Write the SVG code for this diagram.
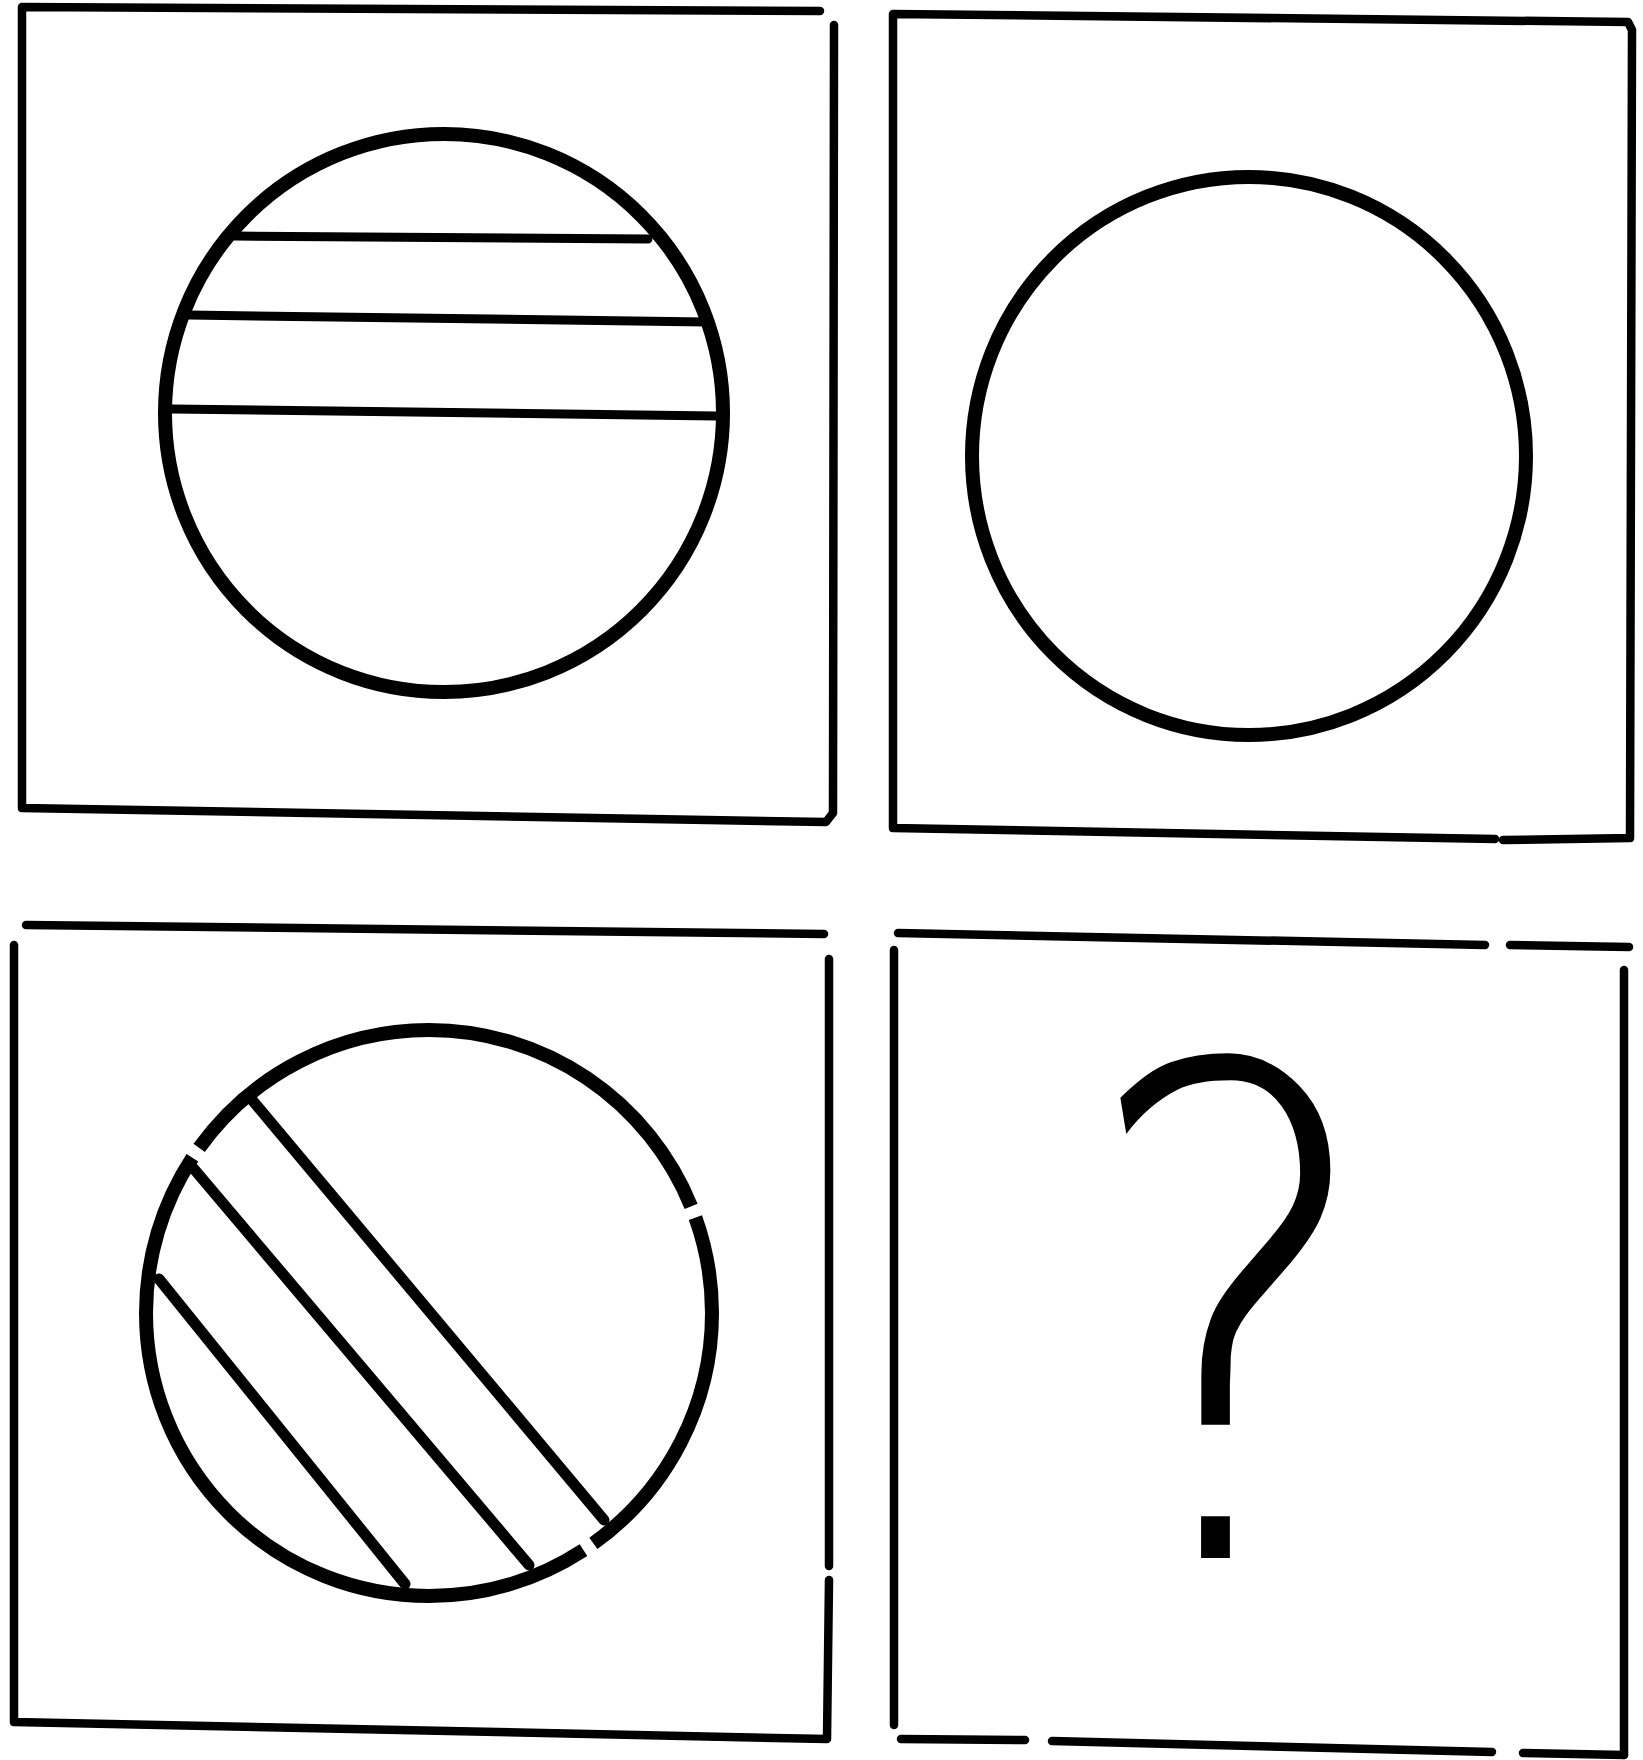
<svg xmlns="http://www.w3.org/2000/svg" width="1643" height="1760" viewBox="0 0 1643 1760">
<style>
.bg{fill:#ffffff}
.box{fill:none;stroke:#000;stroke-width:8.5;stroke-linecap:round;stroke-linejoin:round}
.ring{fill:none;stroke:#000;stroke-width:14}
.band{fill:none;stroke:#000;stroke-width:9;stroke-linecap:round}
.diag{fill:none;stroke:#000;stroke-width:11;stroke-linecap:round}
.q{font-family:"DejaVu Sans","Liberation Sans",sans-serif;font-weight:200;font-size:680px;fill:#000}
</style>
<rect class="bg" x="0" y="0" width="1643" height="1760"/>
<g id="panel-top-left">
  <path class="box" d="M820,11 L22,7 L22,808 L826,822 L833,813 L834,25"/>
  <circle class="ring" cx="444" cy="413" r="279"/>
  <line class="band" x1="234" y1="236" x2="648" y2="239"/>
  <line class="band" x1="189" y1="315" x2="706" y2="322"/>
  <line class="band" x1="172" y1="409" x2="716" y2="416"/>
</g>
<g id="panel-top-right">
  <path class="box" d="M1495,839 L893,828 L893,14 L1628,22 L1632,30 L1630,838 L1503,840"/>
  <ellipse class="ring" cx="1249" cy="456" rx="277" ry="279"/>
</g>
<g id="panel-bottom-left">
  <path class="box" d="M26,925 L824,934"/>
  <path class="box" d="M829,959 L829,1566 M829,1580 L827,1739 L14,1722 L14,945"/>
  <circle class="ring" cx="429" cy="1313" r="283" stroke-dasharray="269 12 772 12 603 12 98"/>
  <line class="diag" x1="253" y1="1101" x2="604" y2="1520"/>
  <line class="diag" x1="194" y1="1169" x2="529" y2="1565"/>
  <line class="diag" x1="159" y1="1279" x2="405" y2="1584"/>
</g>
<g id="panel-bottom-right">
  <path class="box" d="M898,933 L1485,945 M1510,945 L1629,947"/>
  <path class="box" d="M894,950 L894,1725 M1624,970 L1624,1755"/>
  <path class="box" d="M901,1739 L1025,1740 M1052,1741 L1492,1752 M1523,1753 L1624,1755"/>
  <text class="q" x="0" y="0" text-anchor="middle" transform="translate(1230,1558) scale(0.85,1)">?</text>
</g>
</svg>
